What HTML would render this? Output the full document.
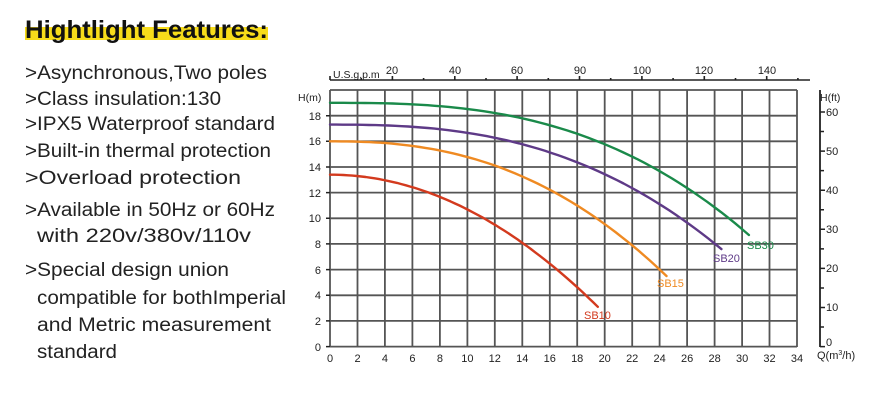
<!DOCTYPE html>
<html><head><meta charset="utf-8"><style>
html,body{margin:0;padding:0;background:#fff}
svg{display:block}
text{font-family:"Liberation Sans",Arial,sans-serif}
</style></head><body>
<svg width="870" height="411" viewBox="0 0 870 411" xmlns="http://www.w3.org/2000/svg">
<rect width="870" height="411" fill="#fff"/>
<rect x="25" y="27" width="243" height="13" fill="#f7dc1a"/>
<text x="25" y="38" font-size="25" font-weight="bold" fill="#111" textLength="243" lengthAdjust="spacingAndGlyphs">Hightlight Features:</text>
<g font-size="19" fill="#222">
<text x="25" y="79" textLength="242" lengthAdjust="spacingAndGlyphs">&gt;Asynchronous,Two poles</text>
<text x="25" y="105" textLength="196" lengthAdjust="spacingAndGlyphs">&gt;Class insulation:130</text>
<text x="25" y="130" textLength="250" lengthAdjust="spacingAndGlyphs">&gt;IPX5 Waterproof standard</text>
<text x="25" y="157" textLength="246" lengthAdjust="spacingAndGlyphs">&gt;Built-in thermal protection</text>
<text x="25" y="184" textLength="216" lengthAdjust="spacingAndGlyphs">&gt;Overload protection</text>
<text x="25" y="216" textLength="250" lengthAdjust="spacingAndGlyphs">&gt;Available in 50Hz or 60Hz</text>
<text x="37" y="242" textLength="214" lengthAdjust="spacingAndGlyphs">with 220v/380v/110v</text>
<text x="25" y="276" textLength="204" lengthAdjust="spacingAndGlyphs">&gt;Special design union</text>
<text x="37" y="304" textLength="249" lengthAdjust="spacingAndGlyphs">compatible for bothImperial</text>
<text x="37" y="331" textLength="234" lengthAdjust="spacingAndGlyphs">and Metric  measurement</text>
<text x="37" y="358" textLength="80" lengthAdjust="spacingAndGlyphs">standard</text>
</g>
<g stroke="#555" stroke-width="1.8">
<path d="M330 90V347M357.5 90V347M384.9 90V347M412.4 90V347M439.9 90V347M467.4 90V347M494.8 90V347M522.3 90V347M549.8 90V347M577.2 90V347M604.7 90V347M632.2 90V347M659.6 90V347M687.1 90V347M714.6 90V347M742.1 90V347M769.5 90V347M797 90V347"/>
<path d="M330 346.6H797M330 320.9H797M330 295.3H797M330 269.6H797M330 243.9H797M330 218.3H797M330 192.6H797M330 167H797M330 141.3H797M330 115.7H797M330 90H797"/>
</g>
<g stroke="#222" stroke-width="1.5"><path d="M326 346.6H330M326 320.9H330M326 295.3H330M326 269.6H330M326 243.9H330M326 218.3H330M326 192.6H330M326 167H330M326 141.3H330M326 115.7H330"/></g>
<g font-size="11" fill="#222" text-anchor="end">
<text x="321" y="351">0</text><text x="321" y="325">2</text><text x="321" y="299">4</text><text x="321" y="274">6</text><text x="321" y="248">8</text><text x="321" y="222">10</text><text x="321" y="197">12</text><text x="321" y="171">14</text><text x="321" y="145">16</text><text x="321" y="120">18</text>
</g>
<text x="298" y="101" font-size="10.5" fill="#222">H(m)</text>
<g font-size="11" fill="#222" text-anchor="middle">
<text x="330" y="362">0</text><text x="357.5" y="362">2</text><text x="384.9" y="362">4</text><text x="412.4" y="362">6</text><text x="439.9" y="362">8</text><text x="467.4" y="362">10</text><text x="494.8" y="362">12</text><text x="522.3" y="362">14</text><text x="549.8" y="362">16</text><text x="577.2" y="362">18</text><text x="604.7" y="362">20</text><text x="632.2" y="362">22</text><text x="659.6" y="362">24</text><text x="687.1" y="362">26</text><text x="714.6" y="362">28</text><text x="742.1" y="362">30</text><text x="769.5" y="362">32</text><text x="797" y="362">34</text>
</g>
<text x="817" y="359" font-size="11" fill="#222">Q(m<tspan font-size="7" dy="-4">3</tspan><tspan dy="4">/h)</tspan></text>
<g stroke="#222" stroke-width="1.6">
<path d="M330 80H810"/>
<path d="M330 76V80M361.2 78V80M392.4 76V80M423.6 78V80M454.8 76V80M486 78V80M517.1 76V80M548.3 78V80M579.5 76V80M610.7 78V80M641.9 76V80M673.1 78V80M704.3 76V80M735.5 78V80M766.7 76V80M797.9 78V80"/>
</g>
<g font-size="11" fill="#222" text-anchor="middle">
<text x="392" y="74">20</text><text x="455" y="74">40</text><text x="517" y="74">60</text><text x="580" y="74">90</text><text x="642" y="74">100</text><text x="704" y="74">120</text><text x="767" y="74">140</text>
</g>
<text x="333" y="78" font-size="10.5" fill="#222">U.S.g.p.m</text>
<g stroke="#222" stroke-width="1.8"><path d="M820 90V347"/></g>
<g stroke="#222" stroke-width="1.5">
<path d="M820 346.6H825M820 327H824M820 307.5H825M820 288H824M820 268.4H825M820 248.9H824M820 229.3H825M820 209.7H824M820 190.2H825M820 170.6H824M820 151.1H825M820 131.5H824M820 112H825"/>
</g>
<g font-size="11" fill="#222">
<text x="826" y="346">0</text><text x="826" y="311">10</text><text x="826" y="272">20</text><text x="826" y="233">30</text><text x="826" y="194">40</text><text x="826" y="155">50</text><text x="826" y="116">60</text>
</g>
<text x="820" y="101" font-size="10.5" fill="#222">H(ft)</text>
<g fill="none" stroke-width="2.4" stroke-linejoin="round" stroke-linecap="round">
<polyline id="c30" points="330,102.8 384.9,103.3 439.9,106.2 494.8,113 549.8,125.3 604.7,144.1 659.6,171.2 700.8,197.3 748.9,235" stroke="#1a8a4a"/>
<polyline id="c20" points="330,124.6 384.9,125.4 439.9,129.3 494.8,137.7 549.8,152.4 604.7,174.2 659.6,204.3 721.4,249.1" stroke="#5e3a87"/>
<polyline id="c15" points="330,141.3 384.9,143.1 439.9,150.6 494.8,165.7 549.8,189.8 604.7,224.1 666.5,276" stroke="#ef8a22"/>
<polyline id="c10" points="330,174.7 384.9,180.2 439.9,196.9 494.8,224.7 549.8,263.7 597.8,306.8" stroke="#d33a1e"/>
</g>
<g font-size="11">
<text x="747" y="249" fill="#1a8a4a">SB30</text>
<text x="713" y="262" fill="#5e3a87">SB20</text>
<text x="657" y="287" fill="#ef8a22">SB15</text>
<text x="584" y="319" fill="#d33a1e">SB10</text>
</g>
</svg>
<script>
(function(){
var defs=[["c30",19,10.3,30.5,2.75],["c20",17.3,9.7,28.5,2.6],["c15",16,10.5,24.5,2.4],["c10",13.4,10.3,19.5,2.0]];
defs.forEach(function(d){
var pts=[];
for(var i=0;i<=60;i++){var q=d[3]*i/60;var h=d[1]-d[2]*Math.pow(q/d[3],d[4]);
pts.push((330+13.735*q).toFixed(1)+","+(346.6-12.83*h).toFixed(1));}
document.getElementById(d[0]).setAttribute("points",pts.join(" "));
});
})();
</script>
</body></html>
